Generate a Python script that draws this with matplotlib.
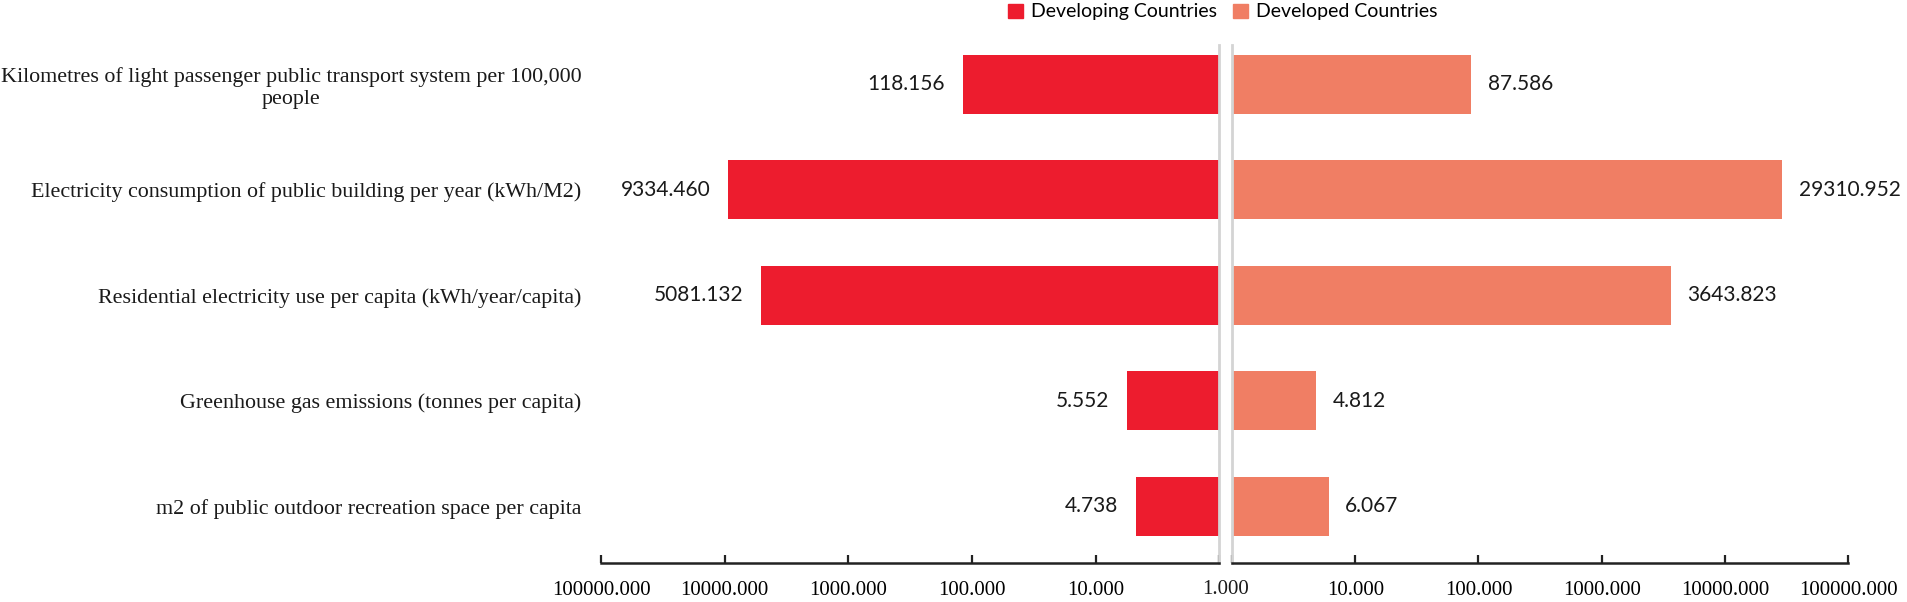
import matplotlib
matplotlib.use('Agg')
import matplotlib.pyplot as plt
from matplotlib.patches import Patch
from matplotlib.ticker import FixedLocator, FuncFormatter, NullLocator

# data
indicators = [
    'Kilometres of light passenger public transport system per 100,000\npeople',
    'Electricity consumption of public building per year (kWh/M2)',
    'Residential electricity use per capita (kWh/year/capita)',
    'Greenhouse gas emissions (tonnes per capita)',
    'm2 of public outdoor recreation space per capita',
]
developing = [118.156, 9334.460, 5081.132, 5.552, 4.738]
developed = [87.586, 29310.952, 3643.823, 4.812, 6.067]
tick_values = [1, 10, 100, 1000, 10000, 100000]

red = '#ed1c2e'
salmon = '#f07e64'
grey = '#d4d4d4'

fig = plt.figure(figsize=(19.07, 6.02), dpi=100)
ax_l = fig.add_axes([0.3152, 0.0648, 0.3241, 0.8605])
ax_r = fig.add_axes([0.6461, 0.0648, 0.3230, 0.8605])

ypos = list(range(len(indicators)))

ax_l.barh(ypos, [v - 1 for v in developing], left=1, height=0.56, color=red)
ax_r.barh(ypos, [v - 1 for v in developed], left=1, height=0.56, color=salmon)

for ax in (ax_l, ax_r):
    ax.set_xscale('log')
    ax.set_ylim(4.54, -0.375)
    ax.xaxis.set_major_locator(FixedLocator(tick_values))
    ax.xaxis.set_minor_locator(NullLocator())
    ax.tick_params(axis='x', direction='in', length=6, width=1.6, pad=13,
                   labelsize=15, color='#222222')
    ax.spines['top'].set_visible(False)
    ax.spines['bottom'].set_linewidth(1.8)
    ax.spines['bottom'].set_color('#222222')
    for lab in ax.get_xticklabels():
        lab.set_fontfamily('Liberation Serif')

fmt_nz = FuncFormatter(lambda v, p: '' if v == 1 else f'{v:.3f}')

ax_l.set_xlim(100000, 1)
ax_l.xaxis.set_major_formatter(fmt_nz)
ax_l.spines['left'].set_visible(False)
ax_l.spines['right'].set_color(grey)
ax_l.spines['right'].set_linewidth(2)
ax_l.set_yticks(ypos)
ax_l.set_yticklabels(indicators, fontsize=15.8, family='Liberation Serif',
                     color='#1a1a1a', multialignment='center')
ax_l.tick_params(axis='y', length=0, pad=14)

ax_r.set_xlim(1, 100000)
ax_r.xaxis.set_major_formatter(fmt_nz)
ax_r.spines['right'].set_visible(False)
ax_r.spines['left'].set_color(grey)
ax_r.spines['left'].set_linewidth(2)
ax_r.set_yticks([])

# single centre label for 1.000
bl = ax_l.get_position()
br = ax_r.get_position()
fig.text((bl.x1 + br.x0) / 2, bl.y0 - 0.044, f'{tick_values[0]:.3f}',
         ha='center', va='center', fontsize=15, family='Liberation Serif',
         color='#1a1a1a')

# value labels
for y, v in zip(ypos, developing):
    ax_l.annotate(f'{v:.3f}', (v, y), xytext=(-13, 0), textcoords='offset points',
                  ha='right', va='center', fontsize=15, family='Lato', color='#1a1a1a')
for y, v in zip(ypos, developed):
    ax_r.annotate(f'{v:.3f}', (v, y), xytext=(12, 0), textcoords='offset points',
                  ha='left', va='center', fontsize=15, family='Lato', color='#1a1a1a')

handles = [Patch(color=red, label='Developing Countries'),
           Patch(color=salmon, label='Developed Countries')]
fig.legend(handles=handles, loc='center', bbox_to_anchor=(1223 / 1907, 1 - 12 / 602),
           ncol=2, frameon=False, handlelength=0.75, handleheight=0.75,
           handletextpad=0.45, columnspacing=0.8, borderpad=0,
           prop={'family': 'Lato', 'size': 14})

fig.savefig('out.png', dpi=100)
